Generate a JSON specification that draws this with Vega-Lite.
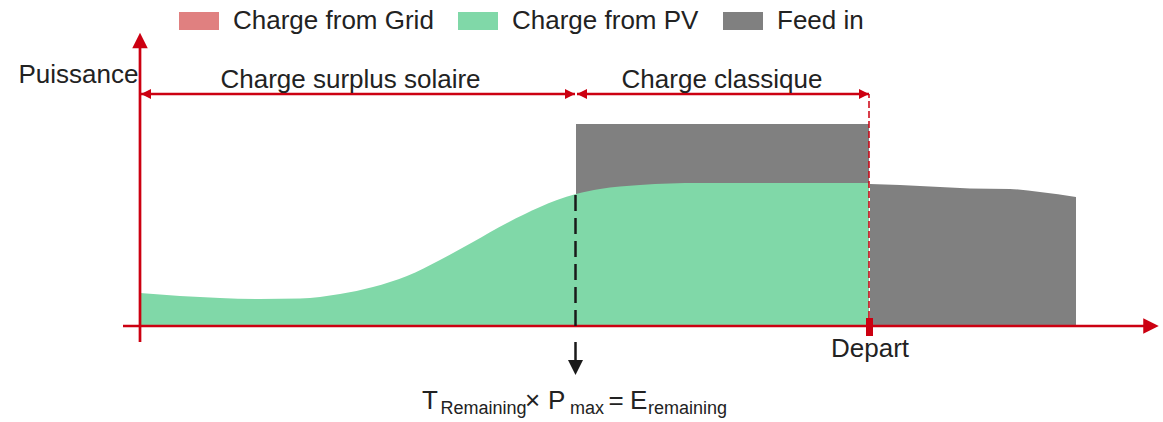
{
  "$schema": "https://vega.github.io/schema/vega-lite/v6.json",
  "width": 1163,
  "height": 422,
  "autosize": {"type": "fit", "contains": "padding"},
  "padding": 0,
  "background": "white",
  "config": {"font": "Liberation Sans", "view": {"stroke": null}},
  "datasets": {
    "pv": [
      {"source": "Charge from PV", "t": 0, "p": 33},
      {"source": "Charge from PV", "t": 40, "p": 30},
      {"source": "Charge from PV", "t": 80, "p": 28},
      {"source": "Charge from PV", "t": 120, "p": 27},
      {"source": "Charge from PV", "t": 160, "p": 27.5},
      {"source": "Charge from PV", "t": 200, "p": 32},
      {"source": "Charge from PV", "t": 233, "p": 39},
      {"source": "Charge from PV", "t": 267, "p": 50},
      {"source": "Charge from PV", "t": 300, "p": 66},
      {"source": "Charge from PV", "t": 333, "p": 84},
      {"source": "Charge from PV", "t": 367, "p": 103},
      {"source": "Charge from PV", "t": 400, "p": 119},
      {"source": "Charge from PV", "t": 417, "p": 126},
      {"source": "Charge from PV", "t": 436, "p": 132},
      {"source": "Charge from PV", "t": 460, "p": 137},
      {"source": "Charge from PV", "t": 500, "p": 141},
      {"source": "Charge from PV", "t": 560, "p": 143},
      {"source": "Charge from PV", "t": 620, "p": 143},
      {"source": "Charge from PV", "t": 680, "p": 143},
      {"source": "Charge from PV", "t": 729, "p": 143}
    ],
    "feedinRect": [
      {"source": "Feed in", "t": 436, "t2": 729, "p": 0, "p2": 202}
    ],
    "feedinTail": [
      {"source": "Feed in", "t": 730, "p": 142},
      {"source": "Feed in", "t": 760, "p": 141},
      {"source": "Feed in", "t": 800, "p": 139},
      {"source": "Feed in", "t": 830, "p": 137.5},
      {"source": "Feed in", "t": 870, "p": 137},
      {"source": "Feed in", "t": 900, "p": 134},
      {"source": "Feed in", "t": 936, "p": 129}
    ],
    "redLines": [
      {"t": 0, "t2": 0, "p": -16, "p2": 280},
      {"t": -17, "t2": 1005, "p": 0, "p2": 0},
      {"t": 1, "t2": 435, "p": 232, "p2": 232},
      {"t": 437, "t2": 729, "p": 232, "p2": 232}
    ],
    "departLine": [{"t": 729, "p": 8, "p2": 232}],
    "departTick": [{"t": 729.5, "p": -10, "p2": 8}],
    "blackDashed": [{"t": 435.5, "p": 131, "p2": -7}],
    "blackStub": [{"t": 435.5, "p": -16, "p2": -35}],
    "blackHead": [{"t": 435.5, "p": -41.5}],
    "axisHeads": [
      {"t": 0, "p": 285.5, "dir": "up"},
      {"t": 1011, "p": 0, "dir": "right"}
    ],
    "spanHeads": [
      {"t": 6, "p": 232, "dir": "left"},
      {"t": 430, "p": 232, "dir": "right"},
      {"t": 442, "p": 232, "dir": "left"},
      {"t": 724, "p": 232, "dir": "right"}
    ],
    "labels": [
      {"t": 210.5, "p": 238, "label": "Charge surplus solaire"},
      {"t": 582, "p": 238, "label": "Charge classique"},
      {"t": -61.5, "p": 243, "label": "Puissance"},
      {"t": 730, "p": -31, "label": "Depart"}
    ],
    "formulaMain": [
      {"t": 282, "p": -82.5, "label": "T"},
      {"t": 385, "p": -82.5, "label": "×"},
      {"t": 408, "p": -82.5, "label": "P"},
      {"t": 468.5, "p": -82.5, "label": "="},
      {"t": 490, "p": -82.5, "label": "E"}
    ],
    "formulaSub": [
      {"t": 300.5, "p": -88, "label": "Remaining"},
      {"t": 430, "p": -88, "label": "max"},
      {"t": 508, "p": -88, "label": "remaining"}
    ]
  },
  "encoding": {
    "x": {"field": "t", "type": "quantitative", "scale": {"domain": [-140, 1023], "nice": false, "zero": false}, "axis": null},
    "y": {"field": "p", "type": "quantitative", "scale": {"domain": [-96, 326], "nice": false, "zero": false}, "axis": null}
  },
  "layer": [
    {
      "data": {"name": "feedinRect"},
      "mark": {"type": "rect"},
      "encoding": {
        "x2": {"field": "t2"},
        "y2": {"field": "p2"},
        "color": {
          "field": "source",
          "type": "nominal",
          "scale": {"domain": ["Charge from Grid", "Charge from PV", "Feed in"], "range": ["#e08080", "#80d8a8", "#808080"]},
          "legend": {
            "orient": "none", "legendX": 179, "legendY": 1, "direction": "horizontal", "columns": 3,
            "title": null, "symbolType": "M-1,-0.45H1V0.45H-1Z", "symbolSize": 1600,
            "symbolStrokeWidth": 0, "symbolOpacity": 1, "labelFontSize": 26, "labelFont": "Liberation Sans",
            "labelColor": "#222222", "labelLimit": 400, "labelOffset": 14, "columnPadding": 24, "padding": 0
          }
        }
      }
    },
    {
      "data": {"name": "feedinTail"},
      "mark": {"type": "area", "interpolate": "monotone"},
      "encoding": {"y2": {"datum": 0}, "color": {"field": "source", "type": "nominal"}}
    },
    {
      "data": {"name": "pv"},
      "mark": {"type": "area", "interpolate": "monotone"},
      "encoding": {"y2": {"datum": 0}, "color": {"field": "source", "type": "nominal"}}
    },
    {
      "data": {"name": "redLines"},
      "mark": {"type": "rule", "color": "#cc0011", "strokeWidth": 2.7},
      "encoding": {"x2": {"field": "t2"}, "y2": {"field": "p2"}}
    },
    {
      "data": {"name": "departLine"},
      "mark": {"type": "rule", "color": "#cc0011", "strokeWidth": 1.5, "strokeDash": [7, 3]},
      "encoding": {"y2": {"field": "p2"}}
    },
    {
      "data": {"name": "departTick"},
      "mark": {"type": "rule", "color": "#cc0011", "strokeWidth": 7},
      "encoding": {"y2": {"field": "p2"}}
    },
    {
      "data": {"name": "blackDashed"},
      "mark": {"type": "rule", "color": "#1a1a1a", "strokeWidth": 2.5, "strokeDash": [16, 7]},
      "encoding": {"y2": {"field": "p2"}}
    },
    {
      "data": {"name": "blackStub"},
      "mark": {"type": "rule", "color": "#1a1a1a", "strokeWidth": 2.5},
      "encoding": {"y2": {"field": "p2"}}
    },
    {
      "data": {"name": "blackHead"},
      "mark": {"type": "point", "shape": "M0,1L-1,-1L1,-1Z", "size": 225, "filled": true, "opacity": 1, "color": "#1a1a1a", "strokeWidth": 0}
    },
    {
      "data": {"name": "axisHeads"},
      "mark": {"type": "point", "size": 240, "filled": true, "opacity": 1, "color": "#cc0011", "strokeWidth": 0},
      "encoding": {
        "shape": {"field": "dir", "type": "nominal", "legend": null,
          "scale": {"domain": ["up", "right", "left"], "range": ["M0,-1L1,1L-1,1Z", "M1,0L-1,-1L-1,1Z", "M-1,0L1,-1L1,1Z"]}}
      }
    },
    {
      "data": {"name": "spanHeads"},
      "mark": {"type": "point", "size": 100, "filled": true, "opacity": 1, "color": "#cc0011", "strokeWidth": 0},
      "encoding": {
        "shape": {"field": "dir", "type": "nominal", "legend": null}
      }
    },
    {
      "data": {"name": "labels"},
      "mark": {"type": "text", "fontSize": 26, "align": "center", "baseline": "alphabetic", "color": "#222222"},
      "encoding": {"text": {"field": "label"}}
    },
    {
      "data": {"name": "formulaMain"},
      "mark": {"type": "text", "fontSize": 26, "align": "left", "baseline": "alphabetic", "color": "#222222"},
      "encoding": {"text": {"field": "label"}}
    },
    {
      "data": {"name": "formulaSub"},
      "mark": {"type": "text", "fontSize": 18, "align": "left", "baseline": "alphabetic", "color": "#222222"},
      "encoding": {"text": {"field": "label"}}
    }
  ]
}
